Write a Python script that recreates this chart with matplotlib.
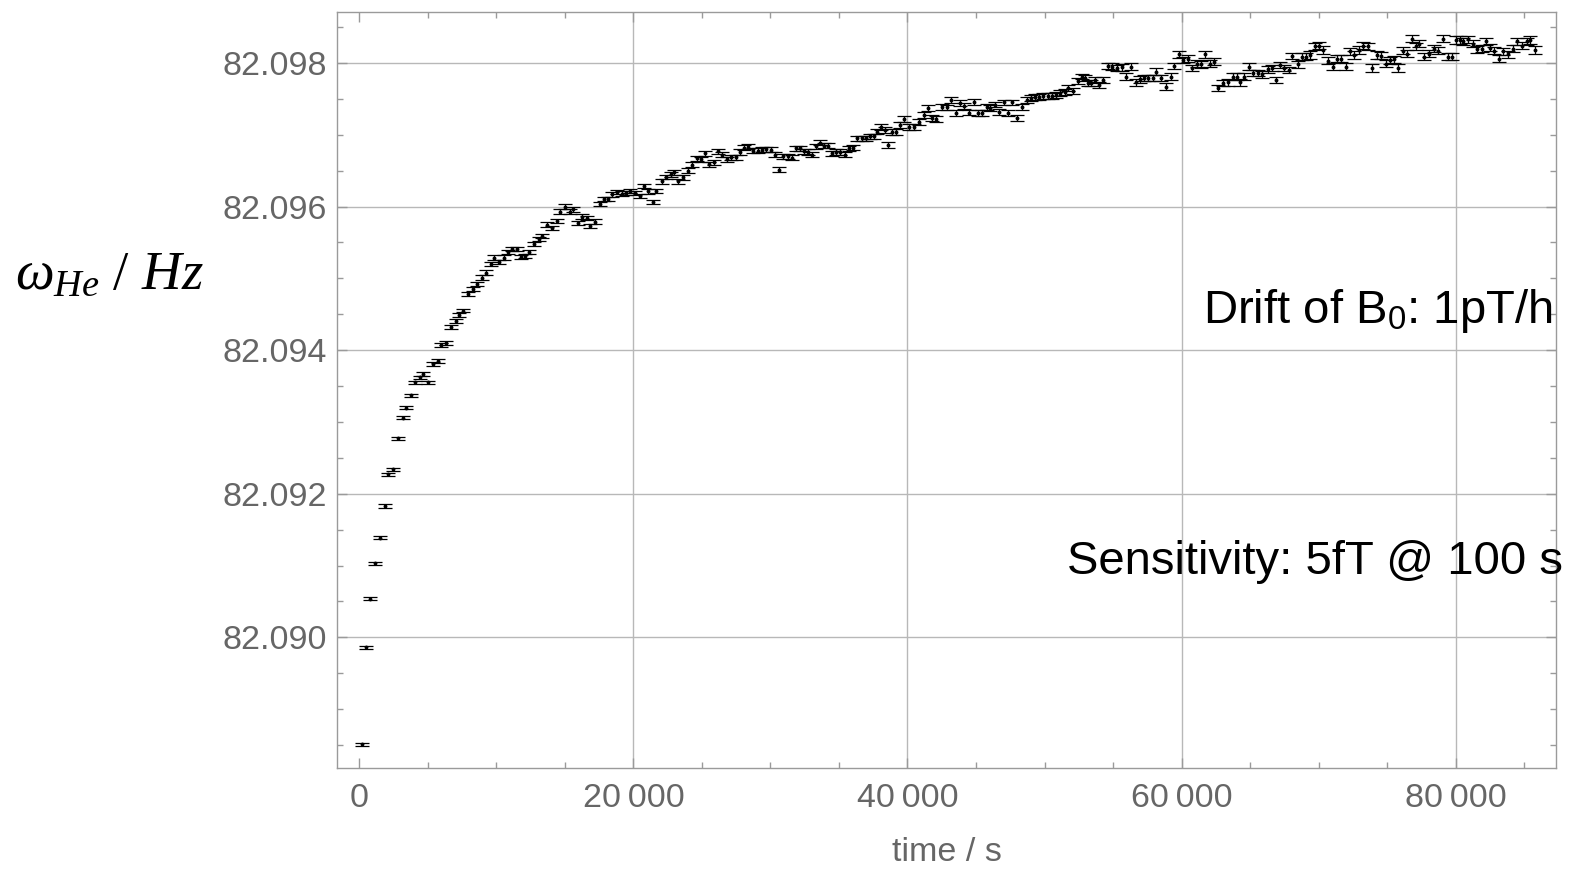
import numpy as np
import matplotlib
matplotlib.use("Agg")
import matplotlib.pyplot as plt
from matplotlib.ticker import MultipleLocator, FixedLocator, FixedFormatter

plt.rcParams["mathtext.fontset"] = "custom"
plt.rcParams["mathtext.rm"] = "Liberation Serif"
plt.rcParams["mathtext.it"] = "Liberation Serif:italic"

# He precession frequency vs. time
time_s = [
    190, 480, 770, 1140, 1500, 1870, 2090, 2450, 2820, 3180, 3400, 3770,
    4060, 4420, 4640, 5010, 5370, 5740, 5960, 6320, 6690, 7050, 7270, 7560,
    7930, 8290, 8580, 8950, 9240, 9610, 9830, 10190, 10560, 10850, 11140, 11500,
    11800, 12090, 12380, 12750, 13110, 13330, 13700, 14060, 14430, 14640, 15010, 15370,
    15590, 15960, 16250, 16620, 16830, 17200, 17560, 17860, 18150, 18440, 18810, 19170,
    19460, 19750, 20120, 20480, 20780, 21070, 21430, 21650, 22090, 22380,
    22750, 22970, 23260, 23620, 23990, 24280, 24650, 24940, 25230, 25520, 25890, 26180,
    26470, 26830, 27130, 27490, 27780, 28080, 28370, 28730, 29100, 29390, 29680, 30050,
    30340, 30630, 30920, 31290, 31580, 31870, 32160, 32460, 32750, 33040, 33330, 33620,
    33920, 34210, 34500, 34790, 35080, 35450, 35740, 36030, 36330, 36690, 36980, 37270,
    37570, 37790,
    38080, 38370, 38590, 38880, 39170, 39460, 39760, 40120, 40490, 40850, 41220, 41510,
    41800, 42090, 42530, 42900, 43190, 43550, 43840, 44140, 44500, 44870, 45160, 45450,
    45810, 46030, 46400, 46690, 47060, 47350, 47640, 48010, 48370, 48740, 49030, 49320,
    49610, 49900, 50270, 50560, 50850, 51140, 51510, 51730, 52090, 52460, 52750, 52970,
    53190,
    53410, 53700, 53990, 54280, 54650, 54940, 55310, 55670, 55960, 56330, 56690, 56980,
    57280, 57570, 57930, 58150, 58520, 58880, 59250, 59470, 59830, 60120, 60490, 60780,
    61150, 61440, 61730, 62090, 62390, 62680, 63040, 63410, 63770, 64070, 64280, 64580,
    64940, 65230, 65600, 65890, 66330, 66620, 66910, 67200, 67500, 67860, 68080, 68520,
    68810, 69100, 69390, 69760, 70050, 70340, 70710, 71070, 71370, 71660, 72020, 72310,
    72610, 72970, 73260, 73630, 73920, 74290, 74580, 74940, 75230, 75530, 75820, 76180,
    76480, 76840, 77130, 77350, 77720, 78080, 78450, 78740, 79100, 79470, 79760, 80050,
    80340, 80560, 80930, 81290, 81590, 81950, 82240, 82530, 82830, 83190, 83480, 83850,
    84210, 84500, 84870, 85240, 85450, 85820,
]

freq_hz = [
    82.08851, 82.08986, 82.09054, 82.09103, 82.09139, 82.09183, 82.09227, 82.09234,
    82.09277, 82.09306, 82.09320, 82.09337, 82.09355, 82.09362, 82.09367, 82.09355,
    82.09381, 82.09385, 82.09407, 82.09410, 82.09432, 82.09441, 82.09449, 82.09455,
    82.09478, 82.09485, 82.09492, 82.09501, 82.09508, 82.09520, 82.09529, 82.09523,
    82.09529, 82.09537, 82.09541, 82.09541, 82.09530, 82.09531, 82.09537, 82.09548,
    82.09555, 82.09559, 82.09575, 82.09570, 82.09580, 82.09593, 82.09600, 82.09593,
    82.09596, 82.09577, 82.09586, 82.09584, 82.09573, 82.09579, 82.09604, 82.09611,
    82.09611, 82.09617, 82.09620, 82.09618, 82.09619, 82.09622, 82.09619, 82.09615,
    82.09629, 82.09621, 82.09606, 82.09622, 82.09635, 82.09641,
    82.09645, 82.09648, 82.09635, 82.09641, 82.09650, 82.09658, 82.09667, 82.09666,
    82.09674, 82.09659, 82.09662, 82.09677, 82.09672, 82.09666, 82.09669, 82.09669,
    82.09676, 82.09682, 82.09683, 82.09678, 82.09678, 82.09679, 82.09680, 82.09679,
    82.09672, 82.09651, 82.09670, 82.09670, 82.09668, 82.09681, 82.09681, 82.09677,
    82.09676, 82.09672, 82.09684, 82.09689, 82.09685, 82.09685, 82.09674, 82.09676,
    82.09676, 82.09672, 82.09681, 82.09682, 82.09695, 82.09695, 82.09695, 82.09698,
    82.09698, 82.09704,
    82.09711, 82.09707, 82.09686, 82.09704, 82.09704, 82.09714, 82.09722, 82.09711,
    82.09711, 82.09718, 82.09728, 82.09737, 82.09723, 82.09722, 82.09739, 82.09738,
    82.09748, 82.09730, 82.09744, 82.09740, 82.09731, 82.09746, 82.09730, 82.09730,
    82.09739, 82.09737, 82.09742, 82.09732, 82.09745, 82.09730, 82.09745, 82.09723,
    82.09739, 82.09748, 82.09751, 82.09753, 82.09753, 82.09754, 82.09754, 82.09754,
    82.09755, 82.09758, 82.09760, 82.09765, 82.09761, 82.09775, 82.09781, 82.09779,
    82.09772,
    82.09772, 82.09776, 82.09769, 82.09776, 82.09796, 82.09795, 82.09793, 82.09794,
    82.09781, 82.09795, 82.09773, 82.09777, 82.09779, 82.09779, 82.09779, 82.09788,
    82.09779, 82.09767, 82.09781, 82.09796, 82.09812, 82.09804, 82.09806, 82.09793,
    82.09799, 82.09798, 82.09812, 82.09799, 82.09802, 82.09765, 82.09772, 82.09773,
    82.09781, 82.09781, 82.09773, 82.09781, 82.09795, 82.09786, 82.09786, 82.09784,
    82.09791, 82.09793, 82.09776, 82.09797, 82.09793, 82.09790, 82.09810, 82.09798,
    82.09809, 82.09809, 82.09811, 82.09823, 82.09824, 82.09818, 82.09803, 82.09795,
    82.09806, 82.09806, 82.09795, 82.09816, 82.09811, 82.09818, 82.09824, 82.09823,
    82.09793, 82.09811, 82.09810, 82.09799, 82.09804, 82.09805, 82.09793, 82.09817,
    82.09813, 82.09834, 82.09823, 82.09827, 82.09809, 82.09813, 82.09820, 82.09817,
    82.09834, 82.09809, 82.09809, 82.09832, 82.09832, 82.09830, 82.09833, 82.09827,
    82.09819, 82.09820, 82.09830, 82.09821, 82.09817, 82.09806, 82.09816, 82.09812,
    82.09820, 82.09830, 82.09824, 82.09830, 82.09832, 82.09818,
]

# error bar half-heights, read per time range (bars get longer with time)
err_until_s = [7600, 22500, 38000, 53300, 68700, 1e9]
err_hz = [2.5e-5, 3.0e-5, 3.5e-5, 4.0e-5, 4.5e-5, 5.0e-5]

xticks = [0, 20000, 40000, 60000, 80000]
xtick_labels = ["0", "20\u2009000", "40\u2009000", "60\u2009000", "80\u2009000"]
yticks = [82.090, 82.092, 82.094, 82.096, 82.098]
ytick_labels = ["82.090", "82.092", "82.094", "82.096", "82.098"]

t = np.array(time_s, dtype=float)
f = np.array(freq_hz)
err = np.array(err_hz)[np.searchsorted(err_until_s, t)]

fig = plt.figure(figsize=(15.74, 8.69), dpi=100)
ax = fig.add_axes([337 / 1574, 1 - 768 / 869, (1556 - 337) / 1574, (768 - 12) / 869])

ax.errorbar(t, f, yerr=err, fmt="o", color="black", markersize=1.8,
            elinewidth=0.9, capsize=4.8, capthick=0.9)

ax.set_xlim(-1635, 87330)
ax.set_ylim(82.08818, 82.09871)

grid_col = "#b8b8b8"
frame_col = "#9a9a9a"
label_col = "#666666"
for v in xticks[1:]:
    ax.axvline(v, color=grid_col, lw=1.0, zorder=0)
for v in yticks:
    ax.axhline(v, color=grid_col, lw=1.0, zorder=0)

for sp in ax.spines.values():
    sp.set_color(frame_col)
    sp.set_linewidth(1.0)

ax.xaxis.set_major_locator(FixedLocator(xticks))
ax.xaxis.set_major_formatter(FixedFormatter(xtick_labels))
ax.xaxis.set_minor_locator(MultipleLocator(5000))
ax.yaxis.set_major_locator(FixedLocator(yticks))
ax.yaxis.set_major_formatter(FixedFormatter(ytick_labels))
ax.yaxis.set_minor_locator(MultipleLocator(0.0005))

ax.tick_params(which="both", direction="in", color=frame_col, width=1.0,
               top=True, right=True, labelcolor=label_col, labelsize=24.5)
ax.tick_params(which="major", length=7)
ax.tick_params(which="minor", length=4)
ax.tick_params(axis="x", pad=11)
ax.tick_params(axis="y", pad=7.5)
for lab in ax.get_xticklabels() + ax.get_yticklabels():
    lab.set_family("Liberation Sans")

ax.set_xlabel("time / s", fontsize=24.5, color=label_col, family="Liberation Sans")
ax.xaxis.label.set_va("center")
ax.xaxis.set_label_coords(0.5, -0.1124)

fig.text(15 / 1574, 1 - 289 / 869, r"$\omega_{He}\ /\ Hz$", fontsize=39.5,
         ha="left", va="baseline", color="black")

fig.text(1203 / 1574, 1 - 323 / 869, r"Drift of B$_\mathregular{0}$: 1pT/h",
         fontsize=34, family="Liberation Sans", ha="left", va="baseline")
fig.text(1067 / 1574, 1 - 574 / 869, "Sensitivity: 5fT @ 100 s",
         fontsize=34, family="Liberation Sans", ha="left", va="baseline")

fig.savefig("out.png", dpi=100)
plt.close(fig)
